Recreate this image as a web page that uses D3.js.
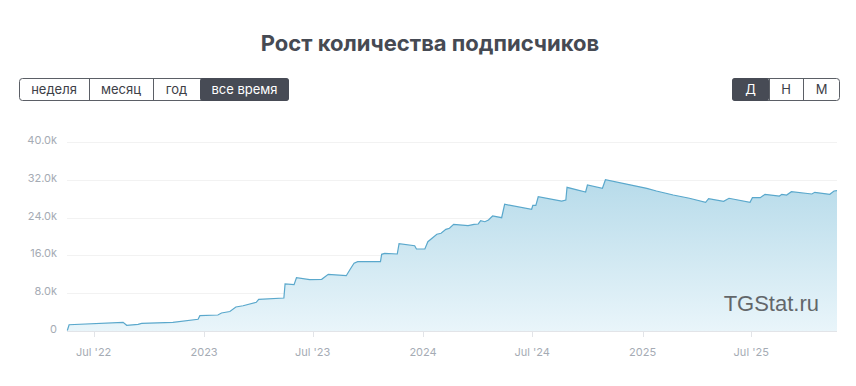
<!DOCTYPE html>
<html>
<head>
<meta charset="utf-8">
<script src="https://cdn.jsdelivr.net/npm/d3@7"></script>
<style>
  body { margin: 0; background: #fff; }
  svg { display: block; }
</style>
</head>
<body>
<svg></svg>
<script>
// subscribers over time
const dates = [
  "2022-05-18","2022-05-21","2022-08-19","2022-08-25","2022-09-13","2022-09-19","2022-11-10",
  "2022-12-22","2022-12-25","2023-01-24","2023-01-30","2023-02-13","2023-02-23","2023-03-07",
  "2023-03-29","2023-04-02","2023-05-14","2023-05-16","2023-05-31","2023-06-04","2023-06-26",
  "2023-07-16","2023-07-27","2023-08-26","2023-09-01","2023-09-08","2023-09-14","2023-10-22",
  "2023-10-24","2023-10-29","2023-11-19","2023-11-22","2023-12-18","2023-12-21","2024-01-04",
  "2024-01-09","2024-01-18","2024-01-24","2024-01-31","2024-02-08","2024-02-14","2024-02-21",
  "2024-03-16","2024-03-26","2024-04-02","2024-04-06","2024-04-13","2024-04-19","2024-04-26",
  "2024-05-11","2024-05-16","2024-06-30","2024-07-02","2024-07-07","2024-07-11","2024-08-19",
  "2024-08-26","2024-08-28","2024-09-28","2024-10-01","2024-10-26","2024-10-31","2025-01-08",
  "2025-01-24","2025-02-21","2025-03-20","2025-04-16","2025-04-21","2025-05-16","2025-05-25",
  "2025-06-29","2025-07-03","2025-07-16","2025-07-24","2025-08-17","2025-08-21","2025-08-29",
  "2025-09-06","2025-10-10","2025-10-15","2025-11-09","2025-11-16","2025-11-21"
]
const subscribers = [
  100, 1330, 1840, 1210, 1420, 1630, 1840,
  2480, 3240, 3390, 3810, 4130, 5080, 5350,
  6070, 6710, 6980, 9950, 9800, 11280, 10860,
  10940, 12000, 11700, 12970, 14330, 14670, 14670,
  16230, 16440, 16300, 18480, 18050, 17350, 17350,
  18900, 19830, 20470, 20680, 21520, 21740, 22580,
  22290, 22580, 22650, 23340, 23130, 23490, 24340,
  23980, 26820, 25760, 26600, 26600, 28420, 27510,
  27730, 30410, 29420, 30900, 30200, 32020, 30200,
  29630, 28780, 28090, 27240, 28000, 27450, 28090,
  27240, 28210, 28210, 28930, 28570, 28930, 28780,
  29480, 29000, 29350, 28930, 29630, 29690
]
const yTicks = [0, 8000, 16000, 24000, 32000, 40000]
const xTickDates = ["2022-07-01","2023-01-01","2023-07-01","2024-01-01","2024-07-01","2025-01-01","2025-07-01"]
const xTickLabels = ["Jul '22","2023","Jul '23","2024","Jul '24","2025","Jul '25"]
const periodButtons = ["неделя","месяц","год","все время"]
const scaleButtons = ["Д","Н","М"]

const width = 856, height = 386
const parse = d3.utcParse("%Y-%m-%d")
const data = dates.map((d, i) => ({date: parse(d), value: subscribers[i]}))

const svg = d3.select("svg")
    .attr("width", width)
    .attr("height", height)

const x = d3.scaleUtc()
    .domain(d3.extent(data, d => d.date))
    .range([67.3, 837])

const y = d3.scaleLinear()
    .domain([0, 40000])
    .range([331, 142])

// title
svg.append("text")
   .attr("x", 430)
   .attr("y", 51)
   .attr("text-anchor", "middle")
   .attr("font-family", "Inter, 'Open Sans', sans-serif")
   .attr("font-weight", 700)
   .attr("font-size", "22px")
   .attr("fill", "#464a53")
   .text("Рост количества подписчиков")

// button groups
function buttonGroup(labels, edges, active) {
    const g = svg.append("g")
    const x0 = edges[0], x1 = edges[edges.length - 1]
    g.append("rect")
     .attr("x", x0 + 0.5).attr("y", 78.5)
     .attr("width", x1 - x0 - 1).attr("height", 22)
     .attr("rx", 3)
     .attr("fill", "#fff")
     .attr("stroke", "#5b5f66")
    labels.forEach((lab, i) => {
        const a = edges[i], b = edges[i + 1]
        if (i === active) {
            g.append("rect")
             .attr("x", a).attr("y", 78)
             .attr("width", b - a).attr("height", 23)
             .attr("rx", i === 0 || i === labels.length - 1 ? 3 : 0)
             .attr("fill", "#474b55")
        } else if (i > 0) {
            g.append("line")
             .attr("x1", a + 0.5).attr("x2", a + 0.5)
             .attr("y1", 79).attr("y2", 100)
             .attr("stroke", "#5b5f66")
        }
        g.append("text")
         .attr("x", (a + b) / 2)
         .attr("y", 94)
         .attr("text-anchor", "middle")
         .attr("font-family", "Inter, 'Open Sans', sans-serif")
         .attr("font-size", "13px")
         .attr("fill", i === active ? "#fff" : "#3d4047")
         .text(lab)
    })
}
buttonGroup(periodButtons, [19, 89, 153, 200, 289], 3)
buttonGroup(scaleButtons, [732, 769, 803, 840], 0)

// grid
svg.append("g")
   .selectAll("line")
   .data(yTicks.filter(d => d > 0))
   .join("line")
   .attr("x1", 67).attr("x2", 837)
   .attr("y1", d => Math.round(y(d)) + 0.5)
   .attr("y2", d => Math.round(y(d)) + 0.5)
   .attr("stroke", "#f2f2f2")

// area gradient
const grad = svg.append("defs").append("linearGradient")
    .attr("id", "fillGrad")
    .attr("gradientUnits", "userSpaceOnUse")
    .attr("x1", 0).attr("x2", 0)
    .attr("y1", y(32000)).attr("y2", y(0))
grad.append("stop").attr("offset", "0%").attr("stop-color", "#b7dbea")
grad.append("stop").attr("offset", "100%").attr("stop-color", "#e9f5fa")

const area = d3.area()
    .x(d => x(d.date))
    .y0(y(0))
    .y1(d => y(d.value))

const line = d3.line()
    .x(d => x(d.date))
    .y(d => y(d.value))

svg.append("path")
   .datum(data)
   .attr("d", area)
   .attr("fill", "url(#fillGrad)")

svg.append("path")
   .datum(data)
   .attr("d", line)
   .attr("fill", "none")
   .attr("stroke", "#5aa8cc")
   .attr("stroke-width", 1.2)

// watermark
svg.append("text")
   .attr("x", 819)
   .attr("y", 311)
   .attr("text-anchor", "end")
   .attr("font-family", "'Liberation Sans', Arial, sans-serif")
   .attr("font-size", "22px")
   .attr("fill", "#4d4f52")
   .attr("opacity", 0.85)
   .text("TGStat.ru")

// x axis
svg.append("line")
   .attr("x1", 67).attr("x2", 837)
   .attr("y1", 331.5).attr("y2", 331.5)
   .attr("stroke", "#e2e4e8")

const xt = svg.append("g")
xt.selectAll("line")
  .data(xTickDates)
  .join("line")
  .attr("x1", d => Math.round(x(parse(d))) + 0.5)
  .attr("x2", d => Math.round(x(parse(d))) + 0.5)
  .attr("y1", 332).attr("y2", 337)
  .attr("stroke", "#e2e4e8")
xt.selectAll("text")
  .data(xTickDates)
  .join("text")
  .attr("x", d => x(parse(d)))
  .attr("y", 356)
  .attr("text-anchor", "middle")
  .attr("font-family", "Inter, 'Open Sans', sans-serif")
  .attr("font-size", "11px")
  .attr("fill", "#a5abb4")
  .text((d, i) => xTickLabels[i])

// y axis labels
svg.append("g")
   .selectAll("text")
   .data(yTicks)
   .join("text")
   .attr("x", 57)
   .attr("y", d => y(d) + 2)
   .attr("text-anchor", "end")
   .attr("font-family", "Inter, 'Open Sans', sans-serif")
   .attr("font-size", "11px")
   .attr("fill", "#a5abb4")
   .text(d => d === 0 ? "0" : (d / 1000).toFixed(1) + "k")
</script>
</body>
</html>
